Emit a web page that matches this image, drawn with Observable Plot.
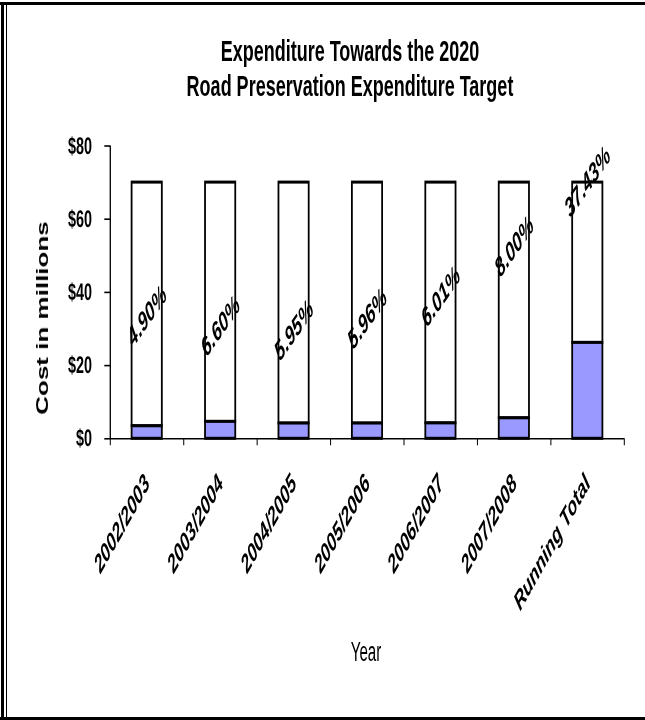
<!DOCTYPE html>
<html>
<head>
<meta charset="utf-8">
<script src="https://cdn.jsdelivr.net/npm/d3@7"></script>
<script src="https://cdn.jsdelivr.net/npm/@observablehq/plot@0.6"></script>
<style>
  body { margin: 0; background: #fff; font-family: "Liberation Sans", Arial, sans-serif; }
  #wrap { position: relative; width: 645px; height: 720px; overflow: hidden; background: #fff; }
  #chart { position: absolute; left: 0; top: 0; will-change: transform; }
  #chart svg { text-rendering: geometricPrecision; }
  .t { position: absolute; white-space: nowrap; color: #000; font-family: "Liberation Sans", Arial, sans-serif; }
  #title { left: 350px; top: 33px; font-size: 30px; font-weight: bold; line-height: 35px; text-align: center; transform: translateX(-50%) scaleX(0.6); }
  #ylab { left: 43px; top: 318px; font-size: 26px; font-weight: bold; line-height: 1; transform: translate(-50%, -50%) scaleX(0.6) rotate(-90deg); }
  #xlab { left: 366px; top: 652px; font-size: 27px; line-height: 1; transform: translate(-50%, -50%) scaleX(0.56); }
  .b { position: absolute; background: #000; }
</style>
</head>
<body>
<div id="wrap">
  <div id="chart"></div>
  <div class="t" id="title">Expenditure Towards the 2020<br>Road Preservation Expenditure Target</div>
  <div class="t" id="ylab">Cost in millions</div>
  <div class="t" id="xlab">Year</div>
  <div class="b" style="left:0;top:2px;width:645px;height:3px"></div>
  <div class="b" style="left:0;top:717px;width:645px;height:3px"></div>
  <div class="b" style="left:1px;top:2px;width:3px;height:718px"></div>
  <div class="b" style="left:5.5px;top:2px;width:1.5px;height:718px"></div>
</div>
<script>
// ---- data ----
const categories = ["2002/2003", "2003/2004", "2004/2005", "2005/2006", "2006/2007", "2007/2008", "Running Total"];
const spent = [3.43, 4.62, 4.17, 4.17, 4.21, 5.60, 26.2];        // $ millions (blue)
const target = [70, 70, 70, 70, 70, 70, 70];                     // $ millions (bar total)
const pctLabels = ["4.90%", "6.60%", "5.95%", "5.96%", "6.01%", "8.00%", "37.43%"];
const labelAt = [33.5, 30.7, 29.6, 32.8, 38.8, 52.5, 70.2];       // label anchor, $ millions
const yTicks = [0, 20, 40, 60, 80];

// ---- layout (the original picture is horizontally compressed) ----
const squeeze = 0.6;
const W = 645, H = 720;
const IW = W / squeeze;
const font = "'Liberation Sans', Arial, sans-serif";

const spentRows = categories.map((c, i) => ({i, y1: 0, y2: spent[i]}));
const restRows = categories.map((c, i) => ({i, y1: spent[i], y2: target[i]}));
const labelRows = categories.map((c, i) => ({i, y: labelAt[i], text: pctLabels[i]}));

const chart = Plot.plot({
  width: IW,
  height: H,
  marginLeft: 110 / squeeze,
  marginRight: IW - 624 / squeeze,
  marginTop: 145.5,
  marginBottom: H - 438.3,
  x: {domain: [0, categories.length], label: null},
  y: {domain: [0, 80], label: null},
  style: {fontFamily: font, background: "transparent", color: "black"},
  marks: [
    Plot.rect(restRows, {x1: "i", x2: d => d.i + 1, y1: "y1", y2: "y2", fill: "white", stroke: "black", strokeWidth: 3, insetLeft: 36, insetRight: 36}),
    Plot.rect(spentRows, {x1: "i", x2: d => d.i + 1, y1: "y1", y2: "y2", fill: "#9999ff", stroke: "black", strokeWidth: 3, insetLeft: 36, insetRight: 36}),
    Plot.ruleY([0], {strokeWidth: 1.6}),
    Plot.ruleX([0], {strokeWidth: 2.2}),
    Plot.axisY({ticks: yTicks, tickFormat: d => "$" + d, tickSize: 9.5, tickPadding: 21, fontSize: 24, fontWeight: "bold", strokeWidth: 1.6, label: null}),
    Plot.axisX({ticks: d3.range(categories.length + 1), tickFormat: () => "", tickSize: 7, strokeWidth: 1.7, label: null}),
    Plot.axisX({ticks: categories.map((c, i) => i + 0.5), tickFormat: t => categories[Math.floor(t)], tickSize: 0, tickPadding: 40, tickRotate: -47, fontSize: 26, fontWeight: "bold", fontStyle: "italic", label: null}),
    Plot.text(labelRows, {x: d => d.i + 0.5, y: "y", text: "text", rotate: -41, fontSize: 27, fontWeight: "bold", fontStyle: "italic", fill: "black"})
  ]
});

chart.setAttribute("width", W);
chart.setAttribute("height", H);
chart.setAttribute("preserveAspectRatio", "none");
chart.style.width = W + "px";
chart.style.height = H + "px";
chart.style.maxWidth = "none";
document.getElementById("chart").appendChild(chart);
</script>
</body>
</html>
